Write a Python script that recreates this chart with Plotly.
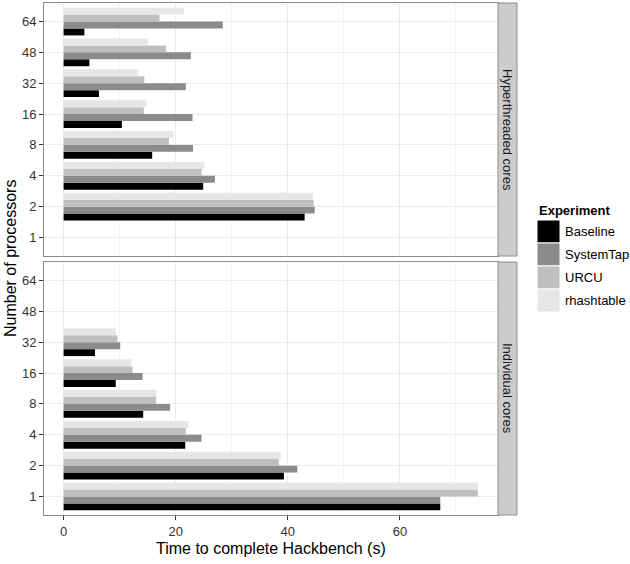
import plotly.graph_objects as go

categories = ["1", "2", "4", "8", "16", "32", "48", "64"]
experiments = ["Baseline", "SystemTap", "URCU", "rhashtable"]
colors = ["#000000", "#8B8B8B", "#BFBFBF", "#E6E6E6"]
panels = ["Hyperthreaded cores", "Individual cores"]

# Hyperthreaded cores panel (seconds), per category above
ht_baseline = [None, 43.0, 24.9, 15.8, 10.4, 6.3, 4.6, 3.7]
ht_systemtap = [None, 44.8, 27.0, 23.1, 23.0, 21.8, 22.7, 28.4]
ht_urcu = [None, 44.6, 24.6, 18.8, 14.3, 14.4, 18.3, 17.1]
ht_rhashtable = [None, 44.5, 25.1, 19.6, 14.8, 13.3, 15.0, 21.5]

# Individual cores panel
ic_baseline = [67.2, 39.3, 21.7, 14.2, 9.3, 5.6, None, None]
ic_systemtap = [67.2, 41.7, 24.6, 19.0, 14.1, 10.1, None, None]
ic_urcu = [73.9, 38.4, 21.8, 16.5, 12.3, 9.6, None, None]
ic_rhashtable = [73.9, 38.75, 22.3, 16.6, 12.1, 9.3, None, None]

x_ticks = [0, 20, 40, 60]

W, H = 630, 564
L, R, T, B = 44, 498, 3, 515


def px(xp):
    return (xp - L) / (R - L)


def py(yp):
    return (B - yp) / (B - T)


FONT = "Liberation Sans, Arial, sans-serif"

fig = go.Figure()
panel_data = [
    ("x", "y", [ht_baseline, ht_systemtap, ht_urcu, ht_rhashtable]),
    ("x2", "y2", [ic_baseline, ic_systemtap, ic_urcu, ic_rhashtable]),
]
for xa, ya, series in panel_data:
    for name, col, vals in zip(experiments, colors, series):
        fig.add_trace(go.Bar(
            x=vals, y=categories, orientation="h", name=name,
            marker=dict(color=col, line=dict(width=0)),
            xaxis=xa, yaxis=ya, showlegend=False,
        ))

xr = [-3.5, 77.5]
top_dom = [py(256), 1.0]
bot_dom = [0.0, py(262)]

common_x = dict(
    range=xr, showgrid=True, gridcolor="#EBEBEB", gridwidth=1,
    zeroline=False, showline=True, mirror=True, linecolor="#8C8C8C", linewidth=1,
    tickvals=x_ticks, ticktext=[str(v) for v in x_ticks],
    minor=dict(dtick=10, tick0=0, showgrid=True, gridcolor="#F4F4F4", gridwidth=0.6),
    tickfont=dict(family=FONT, size=13, color="#333333"),
)
common_y = dict(
    type="category", categoryorder="array", categoryarray=categories,
    range=[-0.6, 7.6], showgrid=True, gridcolor="#EBEBEB", gridwidth=1,
    zeroline=False, showline=True, mirror=True, linecolor="#8C8C8C", linewidth=1,
    ticks="outside", ticklen=4, tickcolor="#333333", tickwidth=1,
    tickfont=dict(family=FONT, size=13, color="#333333"),
)

fig.update_layout(
    width=W, height=H,
    margin=dict(l=L, r=W - R, t=T, b=H - B),
    plot_bgcolor="white", paper_bgcolor="white",
    barmode="group", bargap=0.1, bargroupgap=0,
    font=dict(family=FONT, size=13, color="#1A1A1A"),
    xaxis=dict(common_x, anchor="y", domain=[0, 1], showticklabels=False, ticks=""),
    yaxis=dict(common_y, anchor="x", domain=top_dom),
    xaxis2=dict(common_x, anchor="y2", domain=[0, 1], ticks="outside", ticklen=4,
                tickcolor="#333333", tickwidth=1),
    yaxis2=dict(common_y, anchor="x2", domain=bot_dom),
    showlegend=False,
)

shapes = []
annotations = []

# facet strips on the right
for label, (y0, y1) in zip(panels, [(T, 256), (262, B)]):
    shapes.append(dict(type="rect", xref="paper", yref="paper",
                       x0=px(R), x1=px(517), y0=py(y1), y1=py(y0),
                       fillcolor="#CCCCCC", line=dict(color="#8C8C8C", width=1)))
    annotations.append(dict(text=label, xref="paper", yref="paper",
                            x=px(507.5), y=py((y0 + y1) / 2), showarrow=False,
                            textangle=90, font=dict(family=FONT, size=13, color="#1A1A1A"),
                            xanchor="center", yanchor="middle"))

# axis titles
annotations.append(dict(text="Time to complete Hackbench (s)", xref="paper", yref="paper",
                        x=px(271), y=py(548), showarrow=False,
                        font=dict(family=FONT, size=16, color="#000000"),
                        xanchor="center", yanchor="middle"))
annotations.append(dict(text="Number of processors", xref="paper", yref="paper",
                        x=px(10), y=py(259), showarrow=False, textangle=-90,
                        font=dict(family=FONT, size=16, color="#000000"),
                        xanchor="center", yanchor="middle"))

# legend
annotations.append(dict(text="<b>Experiment</b>", xref="paper", yref="paper",
                        x=px(537), y=py(210), showarrow=False,
                        font=dict(family=FONT, size=13, color="#000000"),
                        xanchor="left", yanchor="middle"))
key_top = 220
key_h = 23
for i, (name, col) in enumerate(zip(experiments, colors)):
    y0 = key_top + i * key_h
    shapes.append(dict(type="rect", xref="paper", yref="paper",
                       x0=px(537), x1=px(560), y0=py(y0 + key_h), y1=py(y0),
                       fillcolor=col, line=dict(color="white", width=1)))
    annotations.append(dict(text=name, xref="paper", yref="paper",
                            x=px(563), y=py(y0 + key_h / 2), showarrow=False,
                            font=dict(family=FONT, size=13, color="#000000"),
                            xanchor="left", yanchor="middle"))

fig.update_layout(shapes=shapes, annotations=annotations)
fig.write_html("out.html")
